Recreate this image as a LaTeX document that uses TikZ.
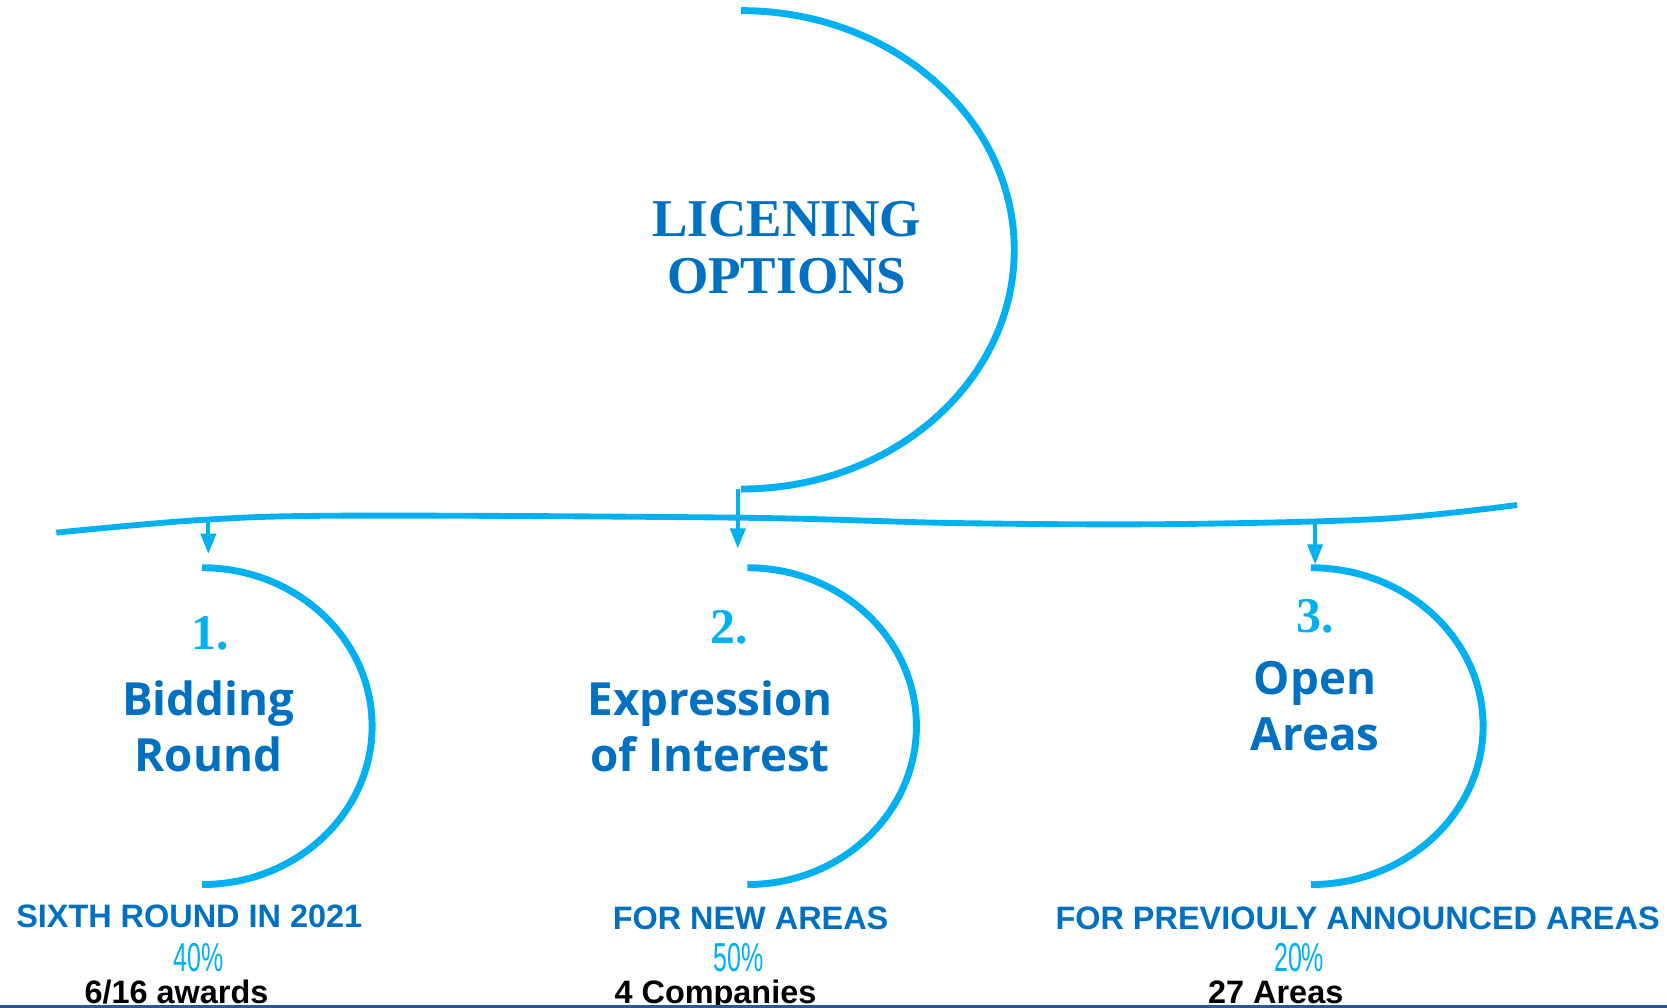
\documentclass[tikz,border=0pt]{standalone}
\usepackage{fontspec}
\setmainfont{Liberation Sans}
\newfontfamily\cpfont{Liberation Serif}
\newfontfamily\lblfont{Open Sans}
\usetikzlibrary{arrows.meta}
\definecolor{dblue}{HTML}{0070C0}
\definecolor{lblue}{HTML}{00B0F0}
\definecolor{navyline}{HTML}{2F5597}
\tikzset{
  arcline/.style={draw=lblue, line width=6.5pt},
  hline/.style={draw=lblue, line width=5.5pt},
  arrowline/.style={draw=lblue, line width=3.8pt, -{Triangle[width=14pt,length=19pt]}},
  titletext/.style={text=dblue, font=\cpfont\bfseries\fontsize{50}{53}\selectfont, align=center, inner sep=0pt},
  numtext/.style={text=lblue, font=\cpfont\bfseries\fontsize{47}{47}\selectfont, inner sep=0pt},
  lbltext/.style={text=dblue, font=\lblfont\bfseries\fontsize{43}{53}\selectfont, align=center, inner sep=0pt},
  captext/.style={text=dblue, font=\bfseries\fontsize{30.5}{30.5}\selectfont, anchor=base, inner sep=0pt},
  pcttext/.style={text=lblue, anchor=base, inner sep=0pt},
  blacktext/.style={text=black, font=\bfseries\fontsize{30.5}{30.5}\selectfont, anchor=base, inner sep=0pt}
}
\newcommand{\pctlabel}[1]{\scalebox{0.62}[1]{\fontsize{38}{38}\selectfont #1}}
\begin{document}
\begin{tikzpicture}[x=1pt,y=-1pt]
\useasboundingbox (0,0) rectangle (1568,948);
\clip (0,0) rectangle (1568,948);

% main arc
\draw[arcline] (697,10) coordinate (bigtop) arc[start angle=-90,end angle=90,x radius=257,y radius=225] coordinate (bigbot);
\node[titletext] (title) at (740,233) {LICENING\\OPTIONS};

% horizontal line
\draw[hline] plot[smooth, tension=0.55] coordinates {(53,501) (190,489) (330,485) (700,487) (900,492) (1100,493) (1300,488) (1427,475)};
\coordinate (h1) at (196,488);
\coordinate (h3) at (1237,491);
\coordinate (t1) at (196,521);
\coordinate (t2) at (694,516);
\coordinate (t3) at (1237,531);
\draw[arrowline] (694,460) -- (t2);
\draw[arrowline] (h1) -- (t1);
\draw[arrowline] (h3) -- (t3);

% small arcs
\draw[arcline] (190,534) coordinate (a1top) arc[start angle=-90,end angle=90,x radius=160,y radius=149] coordinate (a1bot);
\draw[arcline] (703,534) coordinate (a2top) arc[start angle=-90,end angle=90,x radius=159,y radius=149] coordinate (a2bot);
\draw[arcline] (1233,534) coordinate (a3top) arc[start angle=-90,end angle=90,x radius=162,y radius=149] coordinate (a3bot);

% numbers
\node[numtext] (n1) at (198,596) {1.};
\node[numtext] (n2) at (686,590) {2.};
\node[numtext] (n3) at (1237,580) {3.};

% labels
\node[lbltext] (l1) at (196,683) {Bidding\\Round};
\node[lbltext] (l2) at (668,683) {Expression\\of Interest};
\node[lbltext] (l3) at (1237,664) {Open\\Areas};

% captions
\node[captext] (c1) at (178,872) {SIXTH ROUND IN 2021};
\node[captext] (c2) at (706,874) {FOR NEW AREAS};
\node[captext] (c3) at (1277,874) {FOR PREVIOULY ANNOUNCED AREAS};

% percentages
\node[pcttext] (p1) at (187,914) {\pctlabel{40\%}};
\node[pcttext] (p2) at (695,914) {\pctlabel{50\%}};
\node[pcttext] (p3) at (1222,914) {\pctlabel{20\%}};

% black values
\node[blacktext] (b1) at (166,943.5) {6/16 awards};
\node[blacktext] (b2) at (673,943.5) {4 Companies};
\node[blacktext] (b3) at (1200,943.5) {27 Areas};

% bottom rule
\coordinate (bl) at (0,946.8);
\coordinate (br) at (1568,946.8);
\draw[navyline, line width=2.6pt] (bl) -- (br);
\end{tikzpicture}
\end{document}
